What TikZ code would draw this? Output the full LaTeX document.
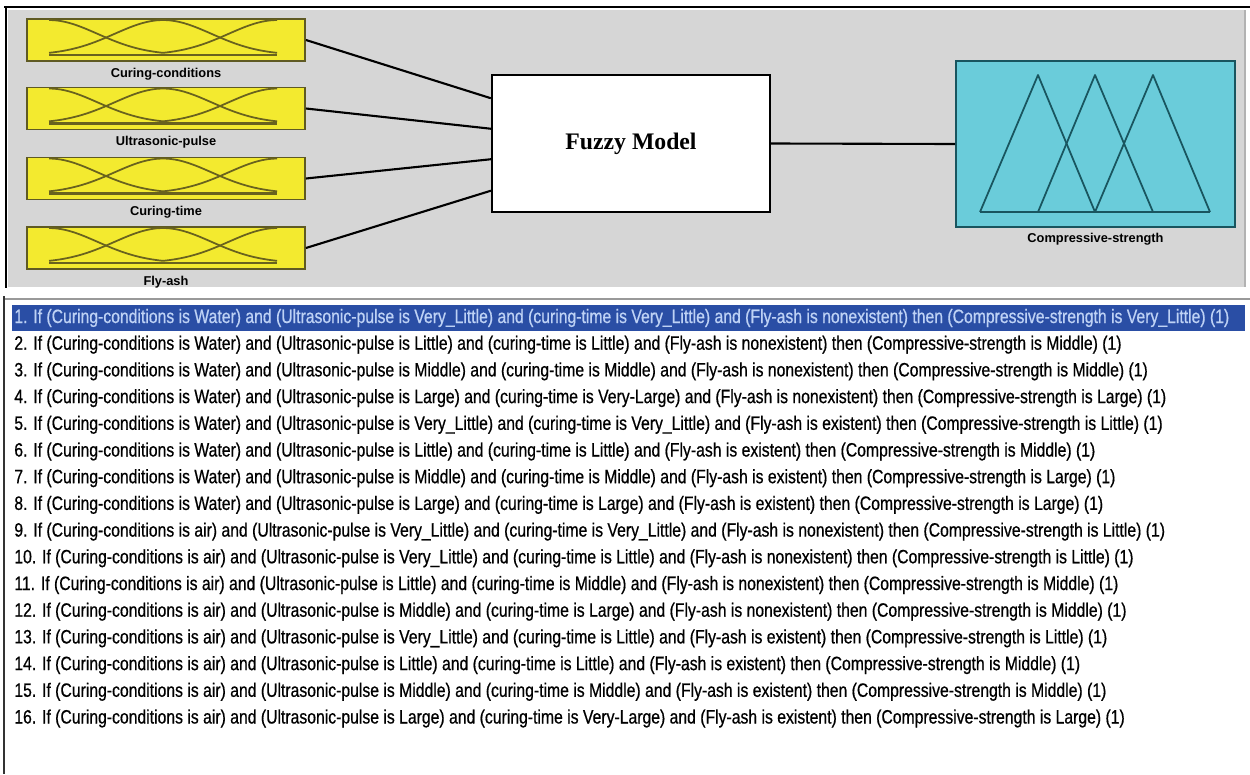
\documentclass[tikz,border=0pt]{standalone}
\usepackage{fontspec}
\usepackage{tikz}
\usetikzlibrary{calc}
\newfontfamily\rulefont[FakeStretch=0.815,FakeBold=0.6]{Liberation Sans}
\newfontfamily\labelfont{Liberation Sans}
\newfontfamily\modelfont{Liberation Serif}
\definecolor{panelgray}{RGB}{214,214,214}
\definecolor{inyellow}{RGB}{243,234,47}
\definecolor{inedge}{RGB}{95,90,35}
\definecolor{mfline}{RGB}{105,98,30}
\definecolor{outcyan}{RGB}{106,204,218}
\definecolor{outedge}{RGB}{25,85,95}
\definecolor{selblue}{RGB}{42,78,165}
\definecolor{seltext}{RGB}{190,210,245}

\begin{document}
\begin{tikzpicture}[x=0.02cm,y=-0.02cm,
  inbox/.style={draw=inedge,line width=1.1pt,fill=inyellow,minimum width=5.56cm,minimum height=0.84cm,inner sep=0pt},
  outbox/.style={draw=outedge,line width=1.1pt,fill=outcyan,minimum width=5.58cm,minimum height=3.32cm,inner sep=0pt},
  modelbox/.style={draw=black,line width=1.3pt,fill=white,minimum width=5.56cm,minimum height=2.74cm,inner sep=0pt},
  varlabel/.style={font=\labelfont\bfseries\fontsize{7.3}{8}\selectfont,inner sep=0pt},
  ruletext/.style={font=\rulefont\fontsize{11}{13}\selectfont,anchor=west,inner sep=0pt},
  mf/.style={mfline,line width=1pt},
  tri/.style={outedge,line width=1pt,line join=round},
  wire/.style={black,line width=1.2pt}]

\useasboundingbox (0,0) rectangle (1250,774);

% FIS editor panel
\fill[panelgray] (8,10) rectangle (1245,287);
\draw[black,line width=1.2pt] (4,7) -- (1250,7);
\draw[black,line width=1.2pt] (6,7) -- (6,288);
\draw[gray!60,line width=0.8pt] (1245,10) -- (1245,287);

% inputs
\foreach \k/\yy/\name in {1/40/Curing-conditions,2/108.5/Ultrasonic-pulse,3/178.5/Curing-time,4/248/Fly-ash}{
  \node[inbox] (in\k) at (166,\yy) {};
  \node[varlabel] (lab\k) at ($(in\k.south)+(0,12)$) {\name};
  \begin{scope}[shift={(in\k.north west)}]
    \draw[mf,line width=1.6pt] (23,37) -- (251,37);
    \draw[mf] plot[domain=23:137,samples=30] (\x,{37-35*exp(-0.5*((\x-23)/48.4)^2)});
    \draw[mf] plot[domain=23:251,samples=50] (\x,{37-35*exp(-0.5*((\x-137)/48.4)^2)});
    \draw[mf] plot[domain=137:251,samples=30] (\x,{37-35*exp(-0.5*((\x-251)/48.4)^2)});
  \end{scope}
}

% model
\node[modelbox] (model) at (631,143.5) {\modelfont\bfseries\fontsize{13.5}{15}\selectfont Fuzzy Model};
\foreach \k/\f in {1/0.175,2/0.394,3/0.613,4/0.839}{
  \draw[wire] (in\k.east) -- ($(model.north west)!\f!(model.south west)$);
}

% output
\node[outbox] (out) at (1095.5,144) {};
\node[varlabel] (outlab) at ($(out.south)+(0,11)$) {Compressive-strength};
\draw[wire] (model.east) -- (out.west);
\draw[tri] (980,212) -- (1210,212);
\draw[tri] (980,212) -- (1038,75) -- (1095,212);
\draw[tri] (1038,212) -- (1095,75) -- (1153,212);
\draw[tri] (1095,212) -- (1153,75) -- (1210,212);

% rule list
\draw[gray!80,line width=1pt] (4,299) -- (1250,299);
\draw[black!80,line width=1pt] (4,296) -- (4,774);
\fill[selblue] (12,305) rectangle (1245,331);
\node[ruletext,seltext] (rule1) at (14,318) {1. If (Curing-conditions is Water) and (Ultrasonic-pulse is Very\_Little) and (curing-time is Very\_Little) and (Fly-ash is nonexistent) then (Compressive-strength is Very\_Little) (1)};
\foreach \n/\cc/\up/\ct/\fa/\cs in {
  2/Water/Little/Little/nonexistent/Middle,
  3/Water/Middle/Middle/nonexistent/Middle,
  4/Water/Large/Very-Large/nonexistent/Large,
  5/Water/Very\_Little/Very\_Little/existent/Little,
  6/Water/Little/Little/existent/Middle,
  7/Water/Middle/Middle/existent/Large,
  8/Water/Large/Large/existent/Large,
  9/air/Very\_Little/Very\_Little/nonexistent/Little,
  10/air/Very\_Little/Little/nonexistent/Little,
  11/air/Little/Middle/nonexistent/Middle,
  12/air/Middle/Large/nonexistent/Middle,
  13/air/Very\_Little/Little/existent/Little,
  14/air/Little/Little/existent/Middle,
  15/air/Middle/Middle/existent/Middle,
  16/air/Large/Very-Large/existent/Large}{
  \node[ruletext] (rule\n) at (14,{318+26.7*(\n-1)}) {\n. If (Curing-conditions is \cc) and (Ultrasonic-pulse is \up) and (curing-time is \ct) and (Fly-ash is \fa) then (Compressive-strength is \cs) (1)};
}

\end{tikzpicture}
\end{document}
